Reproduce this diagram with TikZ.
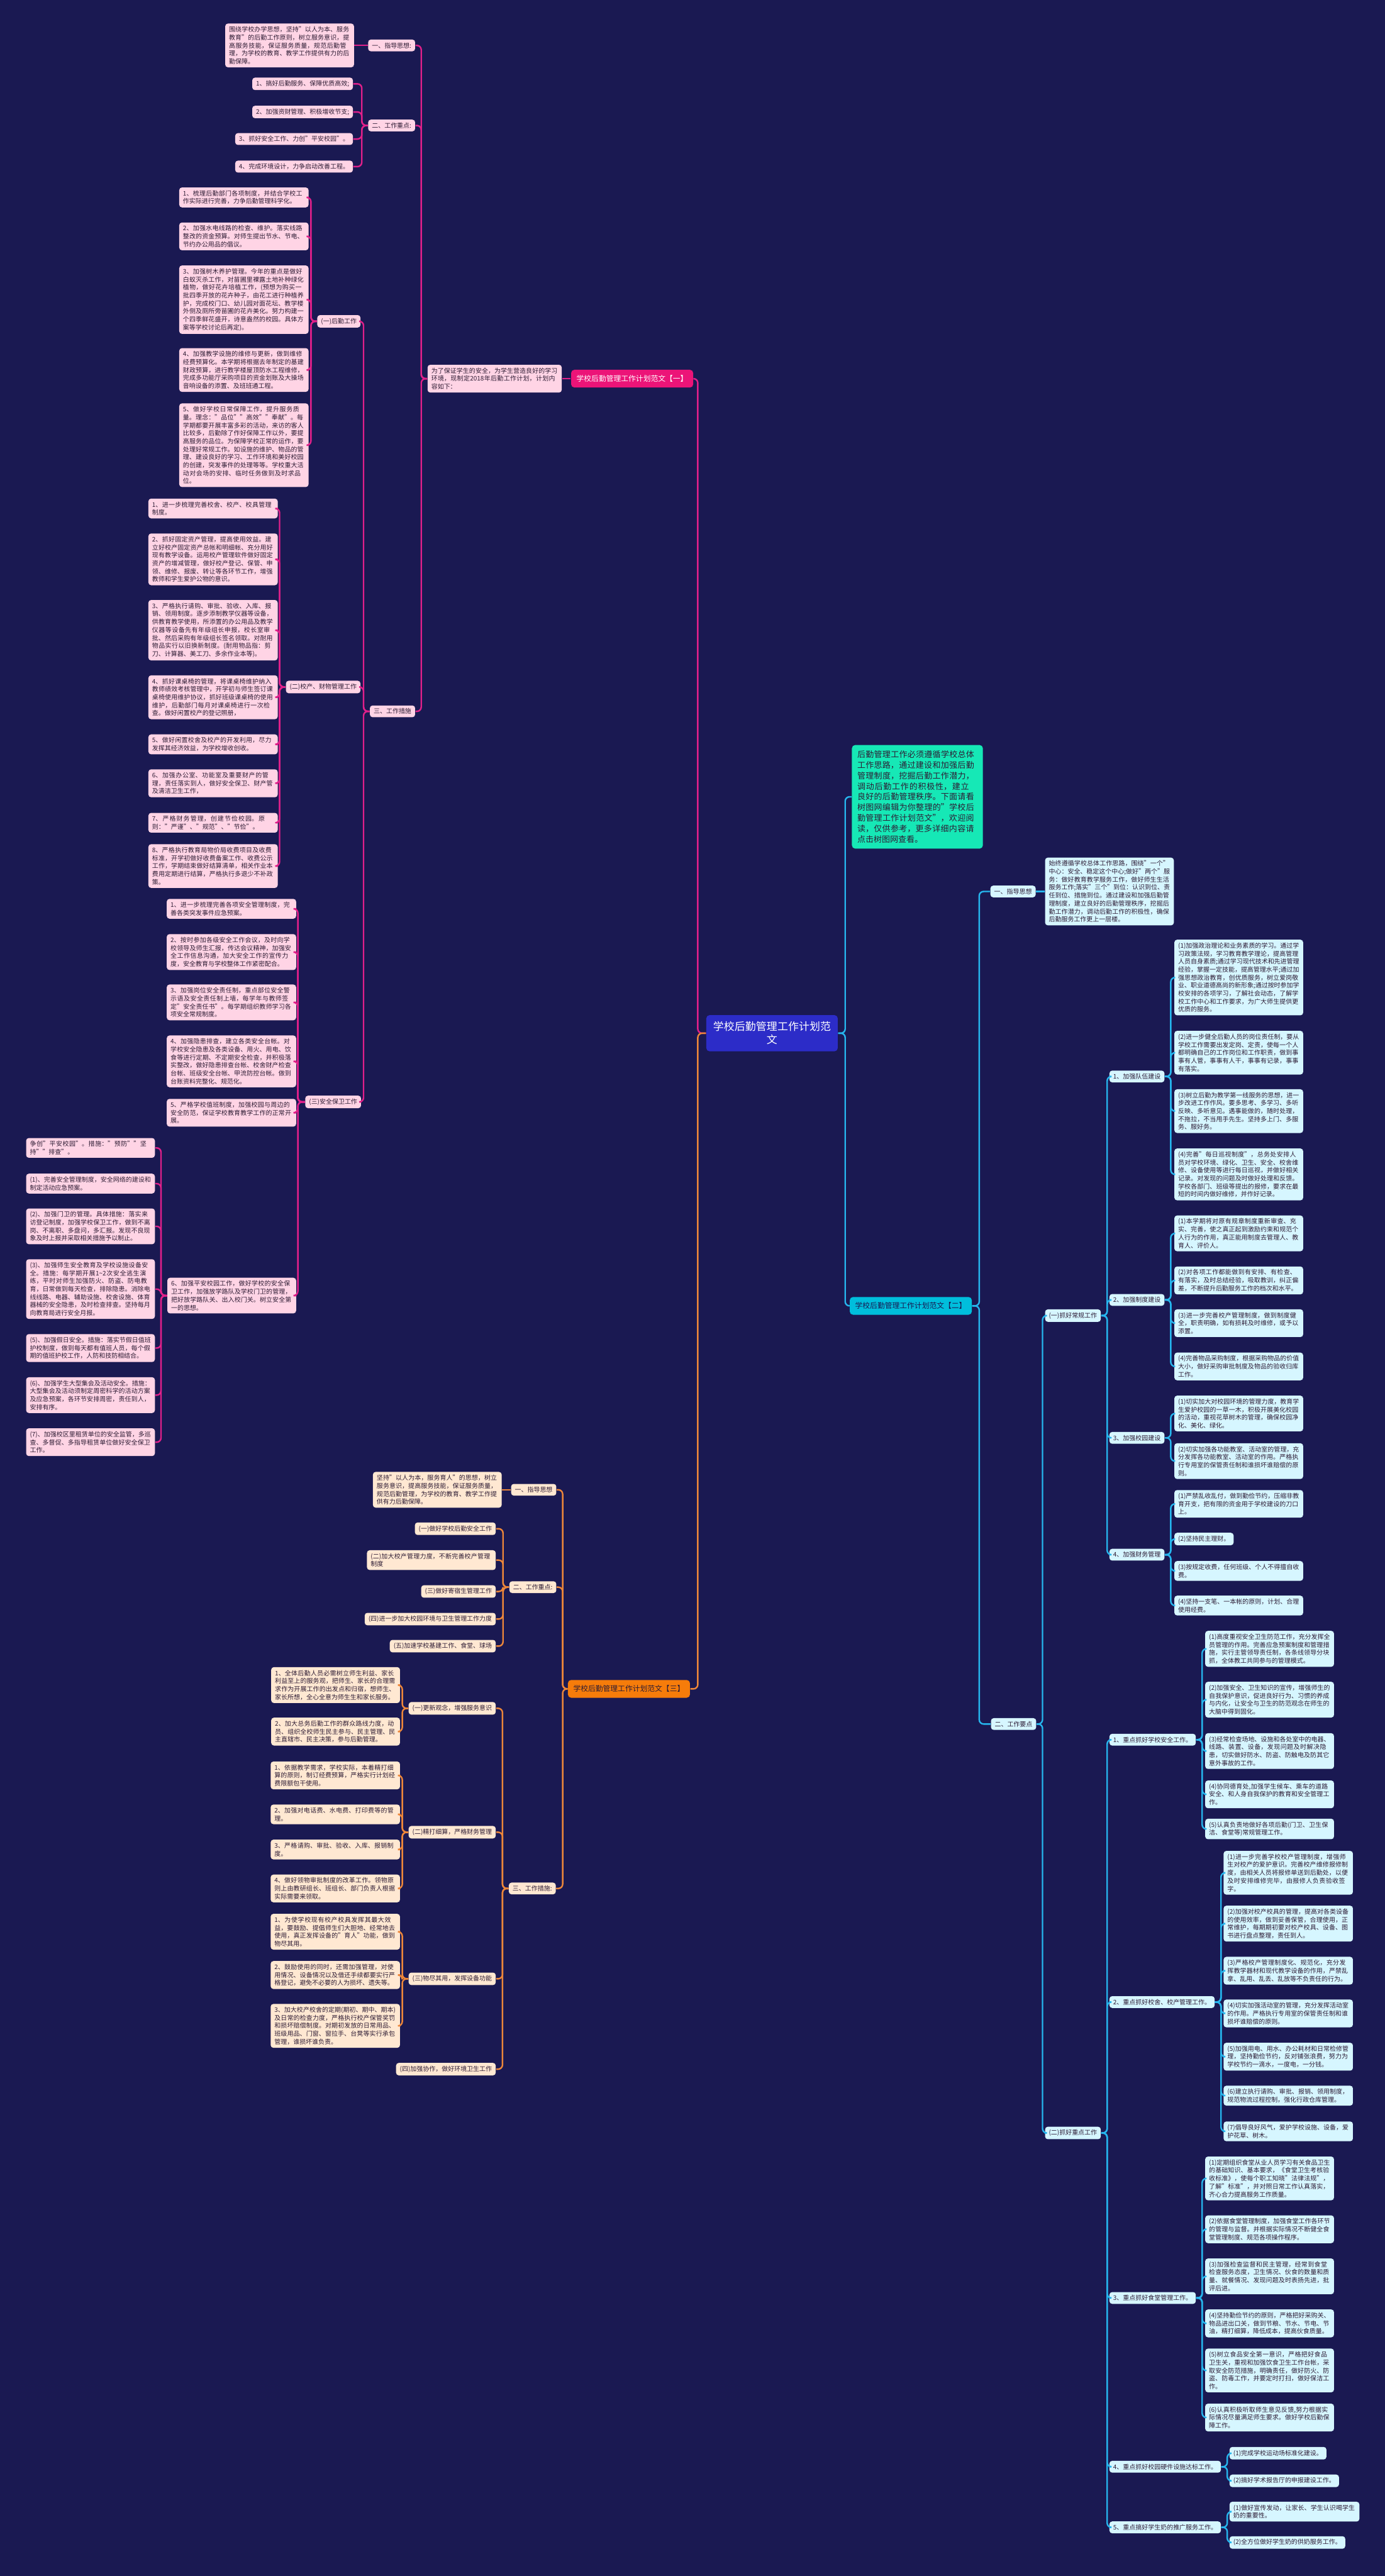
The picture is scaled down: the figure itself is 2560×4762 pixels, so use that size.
\documentclass[tikz,border=0pt]{standalone}
\usepackage{fontspec}
\setmainfont{Noto Sans CJK SC}
\XeTeXlinebreaklocale "zh"
\XeTeXlinebreakskip = 0pt plus 0.5pt
\usepackage{tikz}
\usetikzlibrary{positioning}
\usepackage{xcolor}
\definecolor{bgnavy}{RGB}{26,25,82}
\definecolor{inkdark}{RGB}{45,28,52}
\definecolor{pinkline}{RGB}{224,32,138}
\definecolor{pinkfill}{RGB}{255,212,229}
\definecolor{cyanline}{RGB}{38,182,238}
\definecolor{cyanfill}{RGB}{214,246,255}
\definecolor{orangeline}{RGB}{236,134,58}
\definecolor{orangefill}{RGB}{255,232,210}
\definecolor{greenfill}{RGB}{22,232,182}
\definecolor{rootblue}{RGB}{44,44,200}
\definecolor{headpink}{RGB}{236,20,120}
\definecolor{headcyan}{RGB}{0,190,220}
\definecolor{headorange}{RGB}{246,124,10}

\begin{document}
\begin{tikzpicture}[x=0.1mm, y=-0.1mm,
    box/.style={rounded corners=0.5mm, inner xsep=0.7mm, inner ysep=0.55mm, align=left, text=inkdark,
                font=\fontsize{3.3pt}{4.2pt}\selectfont},
    pk/.style={box, fill=pinkfill},
    cy/.style={box, fill=cyanfill},
    og/.style={box, fill=orangefill},
    head/.style={rounded corners=0.6mm, inner xsep=1mm, inner ysep=1mm, font=\fontsize{3.9pt}{4.6pt}\selectfont},
    lpk/.style={draw=pinkline, line width=0.8pt, rounded corners=0.8mm},
    lcy/.style={draw=cyanline, line width=0.8pt, rounded corners=0.8mm},
    log/.style={draw=orangeline, line width=0.8pt, rounded corners=0.8mm}]
  % background
  \fill[bgnavy] (0,0) rectangle (2560,4762);
  \useasboundingbox (0,0) rectangle (2560,4762);

  % root
  \node[rounded corners=0.6mm, fill=rootblue, text=white, text width=22.3mm, align=center,
        inner xsep=1mm, inner ysep=1.2mm, font=\fontsize{5.6pt}{7pt}\selectfont] (root) at (1427,1910)
        {学校后勤管理工作计划范\\文};

  % ---------------- branch one ----------------
  \node[head, fill=headpink, text=white, anchor=east] (b1) at (1282,700) {学校后勤管理工作计划范文【一】};
  \node[pk, anchor=east, text width=23.4mm] (b1in) at (1039,700)
    {为了保证学生的安全，为学生营造良好的学习环境，现制定2018年后勤工作计划，计划内容如下：};

  % 一 / 二
  \node[pk, anchor=east] (b1s1) at (768,84) {一、指导思想:};
  \node[pk, anchor=east, text width=22.4mm] (b1s1a) at (655,84)
    {围绕学校办学思想，坚持"以人为本、服务教育"的后勤工作原则，树立服务意识，提高服务技能，保证服务质量，规范后勤管理，为学校的教育、教学工作提供有力的后勤保障。};
  \node[pk, anchor=east] (b1s2) at (768,232) {二、工作重点:};
  \node[pk, anchor=east] (b1s2a) at (653,155) {1、搞好后勤服务、保障优质高效;};
  \node[pk, anchor=east] (b1s2b) at (653,207) {2、加强资财管理、积极增收节支;};
  \node[pk, anchor=east] (b1s2c) at (653,257) {3、抓好安全工作、力创"平安校园"。};
  \node[pk, anchor=east] (b1s2d) at (653,308) {4、完成环境设计，力争启动改善工程。};

  % 三
  \node[pk, anchor=east] (b1s3) at (768,1315) {三、工作措施};
  \node[pk, anchor=east] (b1g1) at (667,594) {(一)后勤工作};
  \node[pk, anchor=east, text width=22.5mm] (b1g1a) at (571,365)
    {1、梳理后勤部门各项制度，并结合学校工作实际进行完善，力争后勤管理科学化。};
  \node[pk, anchor=east, text width=22.5mm] (b1g1b) at (571,437)
    {2、加强水电线路的检查、维护。落实线路整改的资金预算。对师生提出节水、节电、节约办公用品的倡议。};
  \node[pk, anchor=east, text width=22.5mm] (b1g1c) at (571,554)
    {3、加强树木养护管理。今年的重点是做好白蚁灭杀工作，对苗圃里裸露土地补种绿化植物，做好花卉培植工作，(预想为购买一批四季开放的花卉种子，由花工进行种植养护，完成校门口、幼儿园对面花坛、教学楼外侧及厕所旁苗圃的花卉美化。努力构建一个四季鲜花盛开，诗意盎然的校园。具体方案等学校讨论后再定)。};
  \node[pk, anchor=east, text width=22.5mm] (b1g1d) at (571,684)
    {4、加强教学设施的维修与更新，做到维修经费预算化。本学期将根据去年制定的基建财政预算，进行教学楼屋顶防水工程维修，完成多功能厅采购项目的资金划账及大操场音响设备的添置、及班班通工程。};
  \node[pk, anchor=east, text width=22.5mm] (b1g1e) at (571,823)
    {5、做好学校日常保障工作，提升服务质量。理念："品位""高效""奉献"。每学期都要开展丰富多彩的活动，来访的客人比较多，后勤除了作好保障工作以外，要提高服务的品位。为保障学校正常的运作，要处理好常规工作。如设施的维护、物品的管理、建设良好的学习、工作环境和美好校园的创建，突发事件的处理等等。学校重大活动对会场的安排、临时任务做到及时求品位。};

  \node[pk, anchor=east] (b1g2) at (667,1270) {(二)校产、财物管理工作};
  \node[pk, anchor=east, text width=22.5mm] (b1g2a) at (514,940)
    {1、进一步梳理完善校舍、校产、校具管理制度。};
  \node[pk, anchor=east, text width=22.5mm] (b1g2b) at (514,1034)
    {2、抓好固定资产管理，提高使用效益。建立好校产固定资产总帐和明细帐、充分用好现有教学设备。运用校产管理软件做好固定资产的增减管理，做好校产登记、保管、申领、维修、报废、转让等各环节工作，增强教师和学生爱护公物的意识。};
  \node[pk, anchor=east, text width=22.5mm] (b1g2c) at (514,1165)
    {3、严格执行请购、审批、验收、入库、报销、领用制度。逐步添制教学仪器等设备，供教育教学使用，所添置的办公用品及教学仪器等设备先有年级组长申报，校长室审批、然后采购有年级组长签名领取。对耐用物品实行以旧换新制度。(耐用物品指：剪刀、计算器、美工刀、多余作业本等)。};
  \node[pk, anchor=east, text width=22.5mm] (b1g2d) at (514,1289)
    {4、抓好课桌椅的管理，将课桌椅维护纳入教师绩效考核管理中，开学初与师生签订课桌椅使用维护协议，抓好班级课桌椅的使用维护，后勤部门每月对课桌椅进行一次检查。做好闲置校产的登记照册，};
  \node[pk, anchor=east, text width=22.5mm] (b1g2e) at (514,1376)
    {5、做好闲置校舍及校产的开发利用，尽力发挥其经济效益，为学校增收创收。};
  \node[pk, anchor=east, text width=22.5mm] (b1g2f) at (514,1448)
    {6、加强办公室、功能室及重要财产的管理，责任落实到人，做好安全保卫、财产管及清洁卫生工作，};
  \node[pk, anchor=east, text width=22.5mm] (b1g2g) at (514,1521)
    {7、严格财务管理，创建节俭校园。原则："严谨"、"规范"、"节俭"。};
  \node[pk, anchor=east, text width=22.5mm] (b1g2h) at (514,1601)
    {8、严格执行教育局物价局收费项目及收费标准，开学初做好收费备案工作、收费公示工作，学期结束做好结算清单，相关作业本费用定期进行结算，严格执行多退少不补政策。};

  \node[pk, anchor=east] (b1g3) at (668,2037) {(三)安全保卫工作};
  \node[pk, anchor=east, text width=22.5mm] (b1g3a) at (548,1680)
    {1、进一步梳理完善各项安全管理制度，完善各类突发事件应急预案。};
  \node[pk, anchor=east, text width=22.5mm] (b1g3b) at (548,1760)
    {2、按时参加各级安全工作会议，及时向学校领导及师生汇报，传达会议精神，加强安全工作信息沟通，加大安全工作的宣传力度，安全教育与学校整体工作紧密配合。};
  \node[pk, anchor=east, text width=22.5mm] (b1g3c) at (548,1853)
    {3、加强岗位安全责任制，重点部位安全警示语及安全责任制上墙，每学年与教师签定"安全责任书"。每学期组织教师学习各项安全常规制度。};
  \node[pk, anchor=east, text width=22.5mm] (b1g3d) at (548,1962)
    {4、加强隐患排查，建立各类安全台帐。对学校安全隐患及各类设备、用火、用电、饮食等进行定期、不定期安全检查，并积极落实整改，做好隐患排查台帐、校舍财产检查台帐、班级安全台帐、甲流防控台帐。做到台账资料完整化、规范化。};
  \node[pk, anchor=east, text width=22.5mm] (b1g3e) at (548,2057)
    {5、严格学校值班制度，加强校园与周边的安全防范，保证学校教育教学工作的正常开展。};
  \node[pk, anchor=east, text width=22.4mm] (b1g3f) at (548,2395)
    {6、加强平安校园工作，做好学校的安全保卫工作，加强放学路队及学校门卫的管理，把好放学路队关、出入校门关。树立安全第一的思想。};

  \node[pk, anchor=east, text width=22.4mm] (b1h1) at (287,2122)
    {争创"平安校园"。措施："预防""坚持""排查"。};
  \node[pk, anchor=east, text width=22.4mm] (b1h2) at (287,2188)
    {(1)、完善安全管理制度，安全网络的建设和制定活动应急预案。};
  \node[pk, anchor=east, text width=22.4mm] (b1h3) at (287,2267)
    {(2)、加强门卫的管理。具体措施：落实来访登记制度，加强学校保卫工作，做到不离岗、不离职、多盘问，多汇报。发现不良现象及时上报并采取相关措施予以制止。};
  \node[pk, anchor=east, text width=22.4mm] (b1h4) at (287,2383)
    {(3)、加强师生安全教育及学校设施设备安全。措施：每学期开展1\textasciitilde 2次安全逃生演练，平时对师生加强防火、防盗、防电教育，日常做到每天检查，排除隐患。消除电线线路、电器、辅助设施、校舍设施、体育器械的安全隐患，及时检查排查。坚持每月向教育局进行安全月报。};
  \node[pk, anchor=east, text width=22.4mm] (b1h5) at (287,2492)
    {(5)、加强假日安全。措施：落实节假日值班护校制度，做到每天都有值班人员，每个假期的值班护校工作，人防和技防相结合。};
  \node[pk, anchor=east, text width=22.4mm] (b1h6) at (287,2579)
    {(6)、加强学生大型集会及活动安全。措施：大型集会及活动须制定周密科学的活动方案及应急预案，各环节安排周密，责任到人，安排有序。};
  \node[pk, anchor=east, text width=22.4mm] (b1h7) at (287,2666)
    {(7)、加强校区里租赁单位的安全监管，多巡查、多督促、多指导租赁单位做好安全保卫工作。};

  % ---------------- branch three ----------------
  \node[head, fill=headorange, text=inkdark, anchor=east] (b3) at (1276,3122) {学校后勤管理工作计划范文【三】};
  \node[og, anchor=east] (b3s1) at (1029,2754) {一、指导思想};
  \node[og, anchor=east, text width=22.4mm] (b3s1a) at (928,2754)
    {坚持"以人为本，服务育人"的思想，树立服务意识，提高服务技能，保证服务质量，规范后勤管理，为学校的教育、教学工作提供有力后勤保障。};
  \node[og, anchor=east] (b3s2) at (1029,2934) {二、工作重点:};
  \node[og, anchor=east] (b3s2a) at (917,2826) {(一)做好学校后勤安全工作};
  \node[og, anchor=east, text width=22.4mm] (b3s2b) at (917,2884) {(二)加大校产管理力度，不断完善校产管理制度};
  \node[og, anchor=east] (b3s2c) at (917,2942) {(三)做好寄宿生管理工作};
  \node[og, anchor=east] (b3s2d) at (917,2993) {(四)进一步加大校园环境与卫生管理工作力度};
  \node[og, anchor=east] (b3s2e) at (917,3043) {(五)加速学校基建工作、食堂、球场};
  \node[og, anchor=east] (b3s3) at (1028,3491) {三、工作措施:};

  \node[og, anchor=east] (b3g1) at (917,3158) {(一)更新观念，增强服务意识};
  \node[og, anchor=east, text width=22.4mm] (b3g1a) at (740,3115)
    {1、全体后勤人员必需树立师生利益、家长利益至上的服务观，把师生、家长的合理需求作为开展工作的出发点和归宿，想师生、家长所想，全心全意为师生生和家长服务。};
  \node[og, anchor=east, text width=22.4mm] (b3g1b) at (740,3201)
    {2、加大总务后勤工作的群众路线力度，动员、组织全校师生民主参与、民主管理、民主直辖市、民主决策，参与后勤管理。};

  \node[og, anchor=east] (b3g2) at (917,3387) {(二)精打细算，严格财务管理};
  \node[og, anchor=east, text width=22.5mm] (b3g2a) at (740,3282)
    {1、依据教学需求，学校实际，本着精打细算的原则，制订经费预算，严格实行计划经费限额包干使用。};
  \node[og, anchor=east, text width=22.5mm] (b3g2b) at (740,3354)
    {2、加强对电话费、水电费、打印费等的管理。};
  \node[og, anchor=east, text width=22.5mm] (b3g2c) at (740,3419)
    {3、严格请购、审批、验收、入库、报销制度。};
  \node[og, anchor=east, text width=22.5mm] (b3g2d) at (740,3491)
    {4、做好领物审批制度的改革工作。领物原则上由教研组长、班组长、部门负责人根据实际需要来领取。};

  \node[og, anchor=east] (b3g3) at (917,3658) {(三)物尽其用，发挥设备功能};
  \node[og, anchor=east, text width=22.5mm] (b3g3a) at (740,3571)
    {1、为使学校现有校产校具发挥其最大效益，要鼓励、提倡师生们大胆地、经常地去使用，真正发挥设备的"育人"功能，做到物尽其用。};
  \node[og, anchor=east, text width=22.5mm] (b3g3b) at (740,3651)
    {2、鼓励使用的同时，还需加强管理，对使用情况、设备情况以及借还手续都要实行严格登记，避免不必要的人为损坏、遗失等。};
  \node[og, anchor=east, text width=22.5mm] (b3g3c) at (740,3745)
    {3、加大校产校舍的定期(期初、期中、期本)及日常的检查力度，严格执行校产保管奖罚和损坏赔偿制度。对期初发放的日常用品、班级用品、门窗、窗拉手、台凳等实行承包管理，谁损坏谁负责。};
  \node[og, anchor=east] (b3g4) at (917,3825) {(四)加强协作，做好环境卫生工作};

  % ---------------- branch two ----------------
  \node[rounded corners=0.6mm, fill=greenfill, text=inkdark, anchor=west, text width=22.2mm, align=left,
        inner xsep=1mm, inner ysep=1mm, font=\fontsize{4.3pt}{5.6pt}\selectfont] (grn) at (1574,1473)
    {后勤管理工作必须遵循学校总体工作思路，通过建设和加强后勤管理制度，挖掘后勤工作潜力，调动后勤工作的积极性，建立良好的后勤管理秩序。下面请看树图网编辑为你整理的"学校后勤管理工作计划范文"，欢迎阅读，仅供参考，更多详细内容请点击树图网查看。};
  \node[head, fill=headcyan, text=bgnavy, anchor=west] (b2) at (1570,2414) {学校后勤管理工作计划范文【二】};
  \node[cy, anchor=west] (b2s1) at (1830,1648) {一、指导思想};
  \node[cy, anchor=west, text width=22.4mm] (b2s1a) at (1931,1648)
    {始终遵循学校总体工作思路，围绕"一个"中心：安全、稳定这个中心;做好"两个"服务：做好教育教学服务工作，做好师生生活服务工作;落实"三个"到位：认识到位、责任到位、措施到位。通过建设和加强后勤管理制度，建立良好的后勤管理秩序，挖掘后勤工作潜力，调动后勤工作的积极性，确保后勤服务工作更上一层楼。};
  \node[cy, anchor=west] (b2s2) at (1831,3187) {二、工作要点};

  \node[cy, anchor=west] (b2g1) at (1931,2432) {(一)抓好常规工作};
  \node[cy, anchor=west] (b2g1a) at (2050,1990) {1、加强队伍建设};
  \node[cy, anchor=west, text width=22.4mm] (b2j1) at (2170,1807)
    {(1)加强政治理论和业务素质的学习。通过学习政策法规，学习教育教学理论，提高管理人员自身素质;通过学习现代技术和先进管理经验，掌握一定技能，提高管理水平;通过加强思想政治教育，创优质服务，树立爱岗敬业、职业道德高尚的新形象;通过按时参加学校安排的各项学习，了解社会动态，了解学校工作中心和工作要求，为广大师生提供更优质的服务。};
  \node[cy, anchor=west, text width=22.4mm] (b2j2) at (2170,1946)
    {(2)进一步健全后勤人员的岗位责任制，要从学校工作需要出发定岗、定责，使每一个人都明确自己的工作岗位和工作职责，做到事事有人管，事事有人干，事事有记录，事事有落实。};
  \node[cy, anchor=west, text width=22.4mm] (b2j3) at (2170,2054)
    {(3)树立后勤为教学第一线服务的思想，进一步改进工作作风。要多思考、多学习、多听反映、多听意见。遇事能做的，随时处理，不拖拉，不当甩手先生。坚持多上门、多服务、服好务。};
  \node[cy, anchor=west, text width=22.4mm] (b2j4) at (2170,2171)
    {(4)完善"每日巡视制度"，总务处安排人员对学校环境、绿化、卫生、安全、校舍维修、设备使用等进行每日巡视，并做好相关记录。对发现的问题及时做好处理和反馈。学校各部门、班级等提出的报修，要求在最短的时间内做好维修，并作好记录。};

  \node[cy, anchor=west] (b2g1b) at (2050,2403) {2、加强制度建设};
  \node[cy, anchor=west, text width=22.4mm] (b2k1) at (2170,2280)
    {(1)本学期将对原有规章制度重新审查、充实、完善，使之真正起到激励约束和规范个人行为的作用，真正能用制度去管理人、教育人、评价人。};
  \node[cy, anchor=west, text width=22.4mm] (b2k2) at (2170,2367)
    {(2)对各项工作都能做到有安排、有检查、有落实，及时总结经验，吸取教训，纠正偏差，不断提升后勤服务工作的档次和水平。};
  \node[cy, anchor=west, text width=22.4mm] (b2k3) at (2170,2446)
    {(3)进一步完善校产管理制度，做到制度健全，职责明确，如有损耗及时维修，或予以添置。};
  \node[cy, anchor=west, text width=22.4mm] (b2k4) at (2170,2526)
    {(4)完善物品采购制度，根据采购物品的价值大小，做好采购审批制度及物品的验收归库工作。};

  \node[cy, anchor=west] (b2g1c) at (2050,2658) {3、加强校园建设};
  \node[cy, anchor=west, text width=22.4mm] (b2l1) at (2170,2613)
    {(1)切实加大对校园环境的管理力度，教育学生爱护校园的一草一木，积极开展美化校园的活动，重视花草树木的管理，确保校园净化、美化、绿化。};
  \node[cy, anchor=west, text width=22.4mm] (b2l2) at (2170,2701)
    {(2)切实加强各功能教室、活动室的管理，充分发挥各功能教室、活动室的作用。严格执行专用室的保管责任制和谁损坏谁赔偿的原则。};

  \node[cy, anchor=west] (b2g1d) at (2050,2874) {4、加强财务管理};
  \node[cy, anchor=west, text width=22.4mm] (b2m1) at (2170,2780)
    {(1)严禁乱收乱付，做到勤俭节约，压缩非教育开支，把有限的资金用于学校建设的刀口上。};
  \node[cy, anchor=west] (b2m2) at (2170,2845) {(2)坚持民主理财。};
  \node[cy, anchor=west, text width=22.4mm] (b2m3) at (2170,2904)
    {(3)按规定收费，任何班级、个人不得擅自收费。};
  \node[cy, anchor=west, text width=22.4mm] (b2m4) at (2170,2968)
    {(4)坚持一支笔、一本帐的原则，计划、合理使用经费。};

  \node[cy, anchor=west] (b2g2) at (1931,3943) {(二)抓好重点工作};
  \node[cy, anchor=west] (b2g2a) at (2050,3216) {1、重点抓好学校安全工作。};
  \node[cy, anchor=west, text width=22.4mm] (b2p1) at (2227,3048)
    {(1)高度重视安全卫生防范工作，充分发挥全员管理的作用。完善应急预案制度和管理措施，实行主管领导责任制，各条线领导分块抓，全体教工共同参与的管理模式。};
  \node[cy, anchor=west, text width=22.4mm] (b2p2) at (2227,3142)
    {(2)加强安全、卫生知识的宣传，增强师生的自我保护意识，促进良好行为、习惯的养成与内化，让安全与卫生的防范观念在师生的大脑中得到固化。};
  \node[cy, anchor=west, text width=22.4mm] (b2p3) at (2227,3237)
    {(3)经常检查场地、设施和各处室中的电器、线路、装置、设备，发现问题及时解决隐患，切实做好防水、防盗、防触电及防其它意外事故的工作。};
  \node[cy, anchor=west, text width=22.4mm] (b2p4) at (2227,3317)
    {(4)协同德育处,加强学生候车、乘车的道路安全、和人身自我保护的教育和安全管理工作。};
  \node[cy, anchor=west, text width=22.4mm] (b2p5) at (2227,3381)
    {(5)认真负责地做好各项后勤(门卫、卫生保洁、食堂等)常规管理工作。};

  \node[cy, anchor=west] (b2g2b) at (2050,3701) {2、重点抓好校舍、校产管理工作。};
  \node[cy, anchor=west, text width=22.5mm] (b2q1) at (2261,3462)
    {(1)进一步完善学校校产管理制度，增强师生对校产的爱护意识。完善校产维修报修制度，由相关人员将报修单送到后勤处，以便及时安排维修完毕，由报修人负责验收签字。};
  \node[cy, anchor=west, text width=22.5mm] (b2q2) at (2261,3556)
    {(2)加强对校产校具的管理，提高对各类设备的使用效率，做到妥善保管，合理使用，正常维护，每期期初要对校产校具、设备、图书进行盘点整理，责任到人。};
  \node[cy, anchor=west, text width=22.5mm] (b2q3) at (2261,3643)
    {(3)严格校产管理制度化、规范化，充分发挥教学器材和现代教学设备的作用，严禁乱拿、乱用、乱丢、乱放等不负责任的行为。};
  \node[cy, anchor=west, text width=22.5mm] (b2q4) at (2261,3722)
    {(4)切实加强活动室的管理，充分发挥活动室的作用。严格执行专用室的保管责任制和谁损坏谁赔偿的原则。};
  \node[cy, anchor=west, text width=22.5mm] (b2q5) at (2261,3802)
    {(5)加强用电、用水、办公耗材和日常检修管理，坚持勤俭节约，反对铺张浪费，努力为学校节约一滴水，一度电，一分钱。};
  \node[cy, anchor=west, text width=22.5mm] (b2q6) at (2261,3874)
    {(6)建立执行请购、审批、报销、领用制度，规范物流过程控制，强化行政仓库管理。};
  \node[cy, anchor=west, text width=22.5mm] (b2q7) at (2261,3940)
    {(7)倡导良好风气，爱护学校设施、设备，爱护花草、树木。};

  \node[cy, anchor=west] (b2g2c) at (2050,4248) {3、重点抓好食堂管理工作。};
  \node[cy, anchor=west, text width=22.4mm] (b2r1) at (2227,4027)
    {(1)定期组织食堂从业人员学习有关食品卫生的基础知识、基本要求，《食堂卫生考核验收标准》，使每个职工知晓"法律法规"，了解"标准"，并对照日常工作认真落实，齐心合力提高服务工作质量。};
  \node[cy, anchor=west, text width=22.4mm] (b2r2) at (2227,4121)
    {(2)依据食堂管理制度，加强食堂工作各环节的管理与监督。并根据实际情况不断健全食堂管理制度、规范各项操作程序。};
  \node[cy, anchor=west, text width=22.4mm] (b2r3) at (2227,4208)
    {(3)加强检查监督和民主管理，经常到食堂检查服务态度，卫生情况、伙食的数量和质量、就餐情况、发现问题及时表扬先进，批评后进。};
  \node[cy, anchor=west, text width=22.4mm] (b2r4) at (2227,4295)
    {(4)坚持勤俭节约的原则，严格把好采购关、物品进出口关，做到节粮、节水、节电、节油，精打细算，降低成本，提高伙食质量。};
  \node[cy, anchor=west, text width=22.4mm] (b2r5) at (2227,4382)
    {(5)树立食品安全第一意识，严格把好食品卫生关，重视和加强饮食卫生工作台帐，采取安全防范措施，明确责任，做好防火、防盗、防毒工作，并要定时打扫，做好保洁工作。};
  \node[cy, anchor=west, text width=22.4mm] (b2r6) at (2227,4469)
    {(6)认真积极听取师生意见反馈,努力根据实际情况尽量满足师生要求。做好学校后勤保障工作。};

  \node[cy, anchor=west] (b2g2d) at (2050,4560) {4、重点抓好校园硬件设施达标工作。};
  \node[cy, anchor=west] (b2s1x) at (2272,4535) {(1)完成学校运动场标准化建设。};
  \node[cy, anchor=west] (b2s2x) at (2272,4586) {(2)搞好学术报告厅的申报建设工作。};

  \node[cy, anchor=west] (b2g2e) at (2050,4672) {5、重点搞好学生奶的推广服务工作。};
  \node[cy, anchor=west, text width=22.6mm] (b2t1) at (2272,4643)
    {(1)做好宣传发动，让家长、学生认识喝学生奶的重要性。};
  \node[cy, anchor=west] (b2t2) at (2272,4700) {(2)全方位做好学生奶的供奶服务工作。};

  % ---------------- connectors ----------------
  \draw[lpk] (root.west) -- ++(-1.5mm,0) |- (b1.east);
  \draw[log] (root.west) -- ++(-1.5mm,0) |- (b3.east);
  \draw[lcy] (root.east) -- ++(1.3mm,0) |- (grn.west);
  \draw[lcy] (root.east) -- ++(1.3mm,0) |- (b2.west);

  % branch one
  \draw[lpk] (b1.west) -- (b1in.east);
  \foreach \k in {b1s1,b1s2,b1s3} \draw[lpk] (b1in.west) -- ++(-1.1mm,0) |- (\k.east);
  \draw[lpk] (b1s1.west) -- (b1s1a.east);
  \foreach \k in {b1s2a,b1s2b,b1s2c,b1s2d} \draw[lpk] (b1s2.west) -- ++(-1.1mm,0) |- (\k.east);
  \foreach \k in {b1g1,b1g2,b1g3} \draw[lpk] (b1s3.west) -- ++(-1.1mm,0) |- (\k.east);
  \foreach \k in {b1g1a,b1g1b,b1g1c,b1g1d,b1g1e} \draw[lpk] (b1g1.west) -- ++(-1.1mm,0) |- (\k.east);
  \foreach \k in {b1g2a,b1g2b,b1g2c,b1g2d,b1g2e,b1g2f,b1g2g,b1g2h} \draw[lpk] (b1g2.west) -- ++(-1.1mm,0) |- (\k.east);
  \foreach \k in {b1g3a,b1g3b,b1g3c,b1g3d,b1g3e,b1g3f} \draw[lpk] (b1g3.west) -- ++(-1.3mm,0) |- (\k.east);
  \foreach \k in {b1h1,b1h2,b1h3,b1h4,b1h5,b1h6,b1h7} \draw[lpk] (b1g3f.west) -- ++(-1.1mm,0) |- (\k.east);

  % branch three
  \foreach \k in {b3s1,b3s2,b3s3} \draw[log] (b3.west) -- ++(-0.9mm,0) |- (\k.east);
  \draw[log] (b3s1.west) -- (b3s1a.east);
  \foreach \k in {b3s2a,b3s2b,b3s2c,b3s2d,b3s2e} \draw[log] (b3s2.west) -- ++(-1.1mm,0) |- (\k.east);
  \foreach \k in {b3g1,b3g2,b3g3,b3g4} \draw[log] (b3s3.west) -- ++(-1.1mm,0) |- (\k.east);
  \foreach \k in {b3g1a,b3g1b} \draw[log] (b3g1.west) -- ++(-1.1mm,0) |- (\k.east);
  \foreach \k in {b3g2a,b3g2b,b3g2c,b3g2d} \draw[log] (b3g2.west) -- ++(-1.1mm,0) |- (\k.east);
  \foreach \k in {b3g3a,b3g3b,b3g3c} \draw[log] (b3g3.west) -- ++(-1.1mm,0) |- (\k.east);

  % branch two
  \foreach \k in {b2s1,b2s2} \draw[lcy] (b2.east) -- ++(1.3mm,0) |- (\k.west);
  \draw[lcy] (b2s1.east) -- (b2s1a.west);
  \foreach \k in {b2g1,b2g2} \draw[lcy] (b2s2.east) -- ++(1.1mm,0) |- (\k.west);
  \foreach \k in {b2g1a,b2g1b,b2g1c,b2g1d} \draw[lcy] (b2g1.east) -- ++(1.1mm,0) |- (\k.west);
  \foreach \k in {b2j1,b2j2,b2j3,b2j4} \draw[lcy] (b2g1a.east) -- ++(1.1mm,0) |- (\k.west);
  \foreach \k in {b2k1,b2k2,b2k3,b2k4} \draw[lcy] (b2g1b.east) -- ++(1.1mm,0) |- (\k.west);
  \foreach \k in {b2l1,b2l2} \draw[lcy] (b2g1c.east) -- ++(1.1mm,0) |- (\k.west);
  \foreach \k in {b2m1,b2m2,b2m3,b2m4} \draw[lcy] (b2g1d.east) -- ++(1.1mm,0) |- (\k.west);
  \foreach \k in {b2g2a,b2g2b,b2g2c,b2g2d,b2g2e} \draw[lcy] (b2g2.east) -- ++(1.1mm,0) |- (\k.west);
  \foreach \k in {b2p1,b2p2,b2p3,b2p4,b2p5} \draw[lcy] (b2g2a.east) -- ++(1.1mm,0) |- (\k.west);
  \foreach \k in {b2q1,b2q2,b2q3,b2q4,b2q5,b2q6,b2q7} \draw[lcy] (b2g2b.east) -- ++(1.1mm,0) |- (\k.west);
  \foreach \k in {b2r1,b2r2,b2r3,b2r4,b2r5,b2r6} \draw[lcy] (b2g2c.east) -- ++(1.1mm,0) |- (\k.west);
  \foreach \k in {b2s1x,b2s2x} \draw[lcy] (b2g2d.east) -- ++(1.1mm,0) |- (\k.west);
  \foreach \k in {b2t1,b2t2} \draw[lcy] (b2g2e.east) -- ++(1.1mm,0) |- (\k.west);
\end{tikzpicture}
\end{document}
